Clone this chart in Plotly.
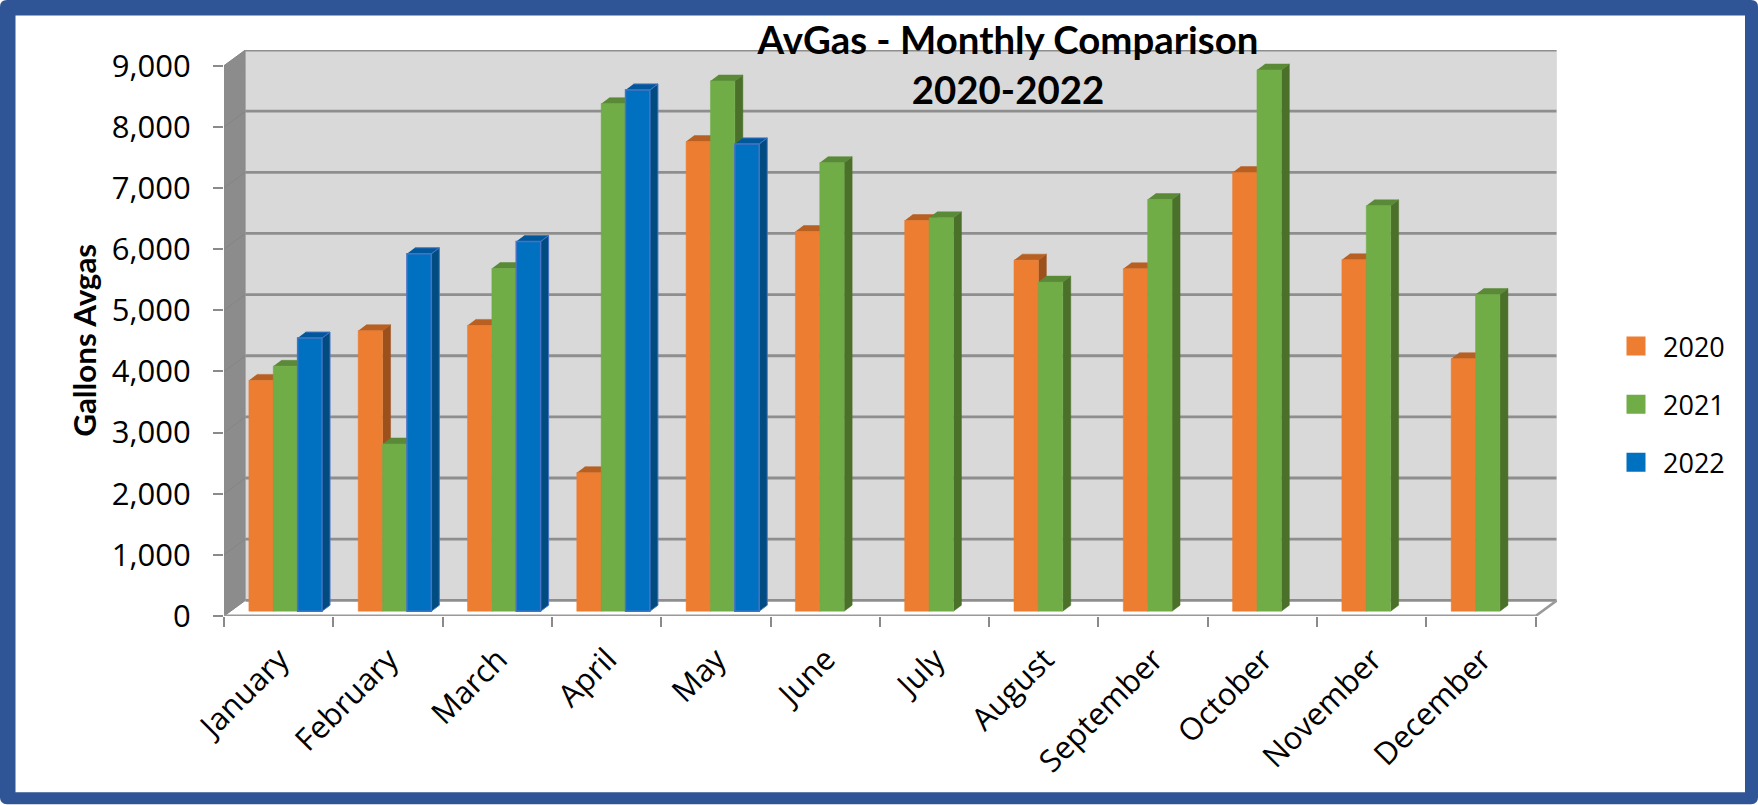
import plotly.graph_objects as go

months = ["January", "February", "March", "April", "May", "June", "July",
          "August", "September", "October", "November", "December"]
y2020 = [3775, 4587, 4674, 2266, 7680, 6209, 6389, 5741, 5600, 7173, 5747, 4129]
y2021 = [4005, 2735, 5605, 8301, 8671, 7336, 6433, 5382, 6732, 8851, 6629, 5180]
y2022 = [4467, 5845, 6046, 8525, 7642, None, None, None, None, None, None, None]
y_ticks = [0, 1000, 2000, 3000, 4000, 5000, 6000, 7000, 8000, 9000]
title_text = "AvGas - Monthly Comparison<br>2020-2022"
y_title = "Gallons Avgas"

W, H = 1758, 805
L, R, T, B = 224.0, 1557.0, 50.0, 616.5
UX = 109.3          # px per category
UY = 0.0612         # px per gallon
dx = lambda p: p / UX
dy = lambda p: p / UY
XMAX = (R - L) / UX
YMAX = (B - T) / UY
BACK_X, BACK_Y = 21.4, 15.7      # depth of the floor
BAR_X, BAR_Y = 6.8, 4.8          # bar plane offset from front
SIDE_X, SIDE_Y = 8.0, 6.0        # bar depth
BARGAP = 0.331
SLOT = (1 - BARGAP) / 3

series = [
    ("2020", y2020, "#ED7D31", "#B85F22", "#9C501C", "#ED7D31"),
    ("2021", y2021, "#70AD47", "#5A8A37", "#4A7029", "#70AD47"),
    ("2022", y2022, "#0070C0", "#00589A", "#004C80", "#4472C4"),
]

px = lambda p: (p - L) / (R - L)
py = lambda p: 1 - (p - T) / (B - T)


def rrect(x0, y0, x1, y1, r):
    return (f"M{px(x0+r)},{py(y0)} L{px(x1-r)},{py(y0)} Q{px(x1)},{py(y0)} {px(x1)},{py(y0+r)} "
            f"L{px(x1)},{py(y1-r)} Q{px(x1)},{py(y1)} {px(x1-r)},{py(y1)} "
            f"L{px(x0+r)},{py(y1)} Q{px(x0)},{py(y1)} {px(x0)},{py(y1-r)} "
            f"L{px(x0)},{py(y0+r)} Q{px(x0)},{py(y0)} {px(x0+r)},{py(y0)} Z")


fig = go.Figure()


def poly(xs, ys, fill, line=None, width=0):
    fig.add_trace(go.Scatter(x=xs, y=ys, mode="lines", fill="toself", fillcolor=fill,
                             line=dict(color=line or fill, width=width or 0.5),
                             hoverinfo="skip", showlegend=False, cliponaxis=False))


def seg(xs, ys, color="#8E8E8E", width=2.8):
    fig.add_trace(go.Scatter(x=xs, y=ys, mode="lines", line=dict(color=color, width=width),
                             hoverinfo="skip", showlegend=False, cliponaxis=False))


bx, by = dx(BACK_X), dy(BACK_Y)
n = len(months)
top = y_ticks[-1]
# back wall
poly([bx, n + bx, n + bx, bx], [by, by, top + by, top + by], "#D9D9D9")
# side wall
poly([0, bx, bx, 0], [0, by, top + by, top], "#8C8C8C")
# grid on back wall and side wall
for v in y_ticks:
    seg([bx, n + bx], [v + by, v + by])
    seg([0, bx], [v, v + by], "#858585", 1)
# floor edges
seg([0, n], [0, 0], "#9A9A9A", 3.2)
seg([n, n + bx], [0, by], "#9A9A9A", 2.6)
seg([n + bx, n + bx], [by, top + by], "#E4E4E4", 1)

# bar depth faces, painted left to right
ox, oy = dx(BAR_X), dy(BAR_Y)
sx, sy = dx(SIDE_X), dy(SIDE_Y)
for i in range(n):
    for j, (name, vals, col, topc, sidec, edge) in enumerate(series):
        v = vals[i]
        if v is None:
            continue
        x0 = i + 0.5 + (j - 1.5) * SLOT + ox
        x1 = x0 + SLOT
        yt = v + oy
        poly([x1, x1 + sx, x1 + sx, x1], [oy, oy + sy, yt + sy, yt], sidec,
             edge if j == 2 else None, 1 if j == 2 else 0)
        poly([x0, x1, x1 + sx, x0 + sx], [yt, yt, yt + sy, yt + sy], topc,
             edge if j == 2 else None, 1 if j == 2 else 0)

# front faces
centers = [i + 0.5 for i in range(n)]
for name, vals, col, topc, sidec, edge in series:
    fig.add_trace(go.Bar(x=centers, y=vals, name=name, marker=dict(color=col, line=dict(color=edge, width=1.5 if name == "2022" else 0.5)),
                         xaxis="x2", yaxis="y2", showlegend=False, cliponaxis=False,
                         customdata=months, hovertemplate="%{customdata}<br>%{y:,}<extra>" + name + "</extra>"))

# legend entries
for name, vals, col, topc, sidec, edge in series:
    fig.add_trace(go.Scatter(x=[None], y=[None], mode="markers", name=name, legendgroup=name,
                             marker=dict(symbol="square", size=16, color=col, line=dict(color=col, width=3))))

fig.update_layout(
    width=W, height=H, autosize=False,
    margin=dict(l=L, r=W - R, t=T, b=H - B, pad=0),
    paper_bgcolor="white", plot_bgcolor="rgba(0,0,0,0)",
    barmode="group", bargap=BARGAP, bargroupgap=0,
    font=dict(family="Open Sans", color="black"),
    title=dict(text=title_text, x=1008 / W, xanchor="center", y=1 - 54 / H, yanchor="top",
               font=dict(family="Lato", size=38.4, weight="bold", color="black")),
    xaxis=dict(range=[0, XMAX], tickmode="array", tickvals=centers, ticktext=months, tickangle=-45,
               ticks="", showgrid=False, zeroline=False, showline=False,
               tickfont=dict(family="Open Sans", size=31), ticklabelstandoff=18, ticklabelshift=1,
               minor=dict(tickmode="array", tickvals=list(range(n + 1)), ticks="outside", ticklen=10,
                          tickwidth=1.5, tickcolor="#8A8A8A", showgrid=False)),
    yaxis=dict(range=[0, YMAX], tickmode="array", tickvals=y_ticks, tickformat=",", ticks="outside",
               ticklen=10, tickwidth=1.5, tickcolor="#8A8A8A", showgrid=False, zeroline=False, showline=False,
               tickfont=dict(family="Open Sans", size=31), ticklabelstandoff=16),
    xaxis2=dict(overlaying="x", range=[-ox, XMAX - ox], visible=False),
    yaxis2=dict(overlaying="y", range=[-oy, YMAX - oy], visible=False),
    legend=dict(xref="container", yref="container", x=1609 / W, xanchor="left", y=1 - 322 / H, yanchor="top",
                font=dict(family="Open Sans", size=27, color="black"), tracegroupgap=20, itemwidth=44,
                bgcolor="rgba(0,0,0,0)", itemclick=False, itemdoubleclick=False),
    annotations=[dict(text=y_title, textangle=-90, showarrow=False, xref="paper", yref="paper",
                      x=px(84), y=py(341), xanchor="center", yanchor="middle",
                      font=dict(family="Lato", size=31.3, weight="bold", color="black"))],
    shapes=[
        dict(type="path", xref="paper", yref="paper", layer="below", path=rrect(0, 0, W, H, 7),
             fillcolor="#2F5597", line=dict(width=0)),
        dict(type="rect", xref="paper", yref="paper", layer="below", x0=px(15.5), x1=px(1745), y0=py(793),
             y1=py(15.5), fillcolor="white", line=dict(width=0)),
    ],
)
fig.write_html("out.html", config=dict(displayModeBar=False),
               post_script="document.body.style.margin='0';document.body.style.overflow='hidden';")
